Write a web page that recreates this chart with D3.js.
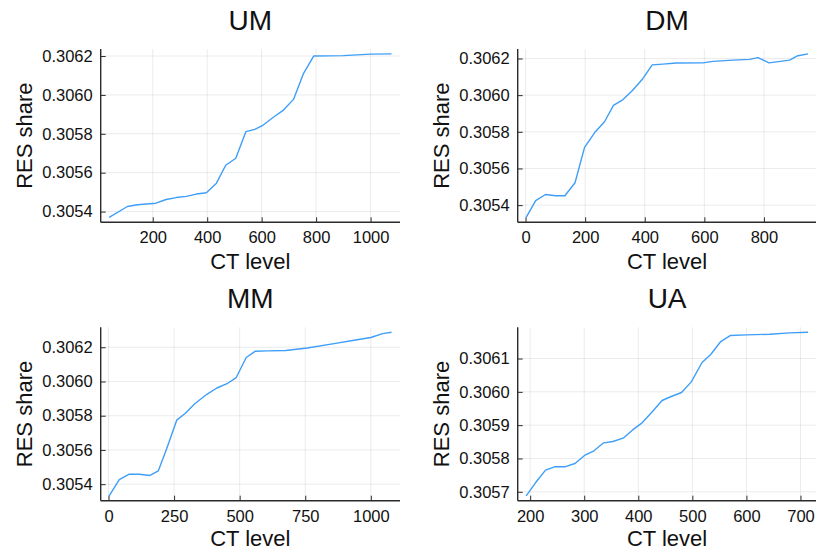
<!DOCTYPE html>
<html>
<head>
<meta charset="utf-8">
<script src="https://cdn.jsdelivr.net/npm/d3@7"></script>
<style>
  html, body { margin: 0; padding: 0; background: #fff; }
  svg { display: block; font-family: "Liberation Sans", Arial, sans-serif; }
</style>
</head>
<body>
<svg id="chart" width="816" height="551"></svg>
<script>
// CT level vs. RES share for the four regions
const umCT  = [40, 107, 144, 212, 249, 286, 323, 360, 397, 434, 468, 505, 542, 575, 606, 643, 680, 717, 754, 791, 900, 1000, 1077];
const umRES = [0.305370, 0.305426, 0.305435, 0.305443, 0.305462, 0.305472, 0.305478, 0.305490, 0.305497, 0.305546, 0.305638, 0.305674, 0.305811, 0.305823, 0.305845, 0.305885, 0.305922, 0.305977, 0.306111, 0.306200, 0.306202, 0.306210, 0.306211];

const dmCT  = [2, 34, 67, 101, 132, 166, 198, 232, 265, 295, 327, 358, 394, 425, 461, 506, 595, 629, 696, 752, 780, 817, 886, 914, 948];
const dmRES = [0.305333, 0.305425, 0.305458, 0.305451, 0.305451, 0.305522, 0.305715, 0.305796, 0.305855, 0.305944, 0.305976, 0.306024, 0.306091, 0.306165, 0.306169, 0.306175, 0.306176, 0.306184, 0.306191, 0.306195, 0.306205, 0.306176, 0.306191, 0.306215, 0.306225];

const mmCT  = [2.5, 41, 79, 117, 158, 190, 222, 260, 292, 330, 375, 413, 452, 487, 525, 560, 605, 675, 758, 860, 936, 1000, 1045, 1079];
const mmRES = [0.305332, 0.305427, 0.305458, 0.305458, 0.305451, 0.305478, 0.305608, 0.305774, 0.305813, 0.305871, 0.305925, 0.305962, 0.305987, 0.306023, 0.306140, 0.306177, 0.306179, 0.306181, 0.306196, 0.306221, 0.306241, 0.306257, 0.306280, 0.306288];

const uaCT  = [192.6, 209.9, 228.4, 245, 264, 283, 300.6, 318, 336, 353, 372, 389, 407, 425, 444, 461, 480, 498, 518, 534, 552.5, 570, 600, 643, 680, 714];
const uaRES = [0.305688, 0.305727, 0.305765, 0.305775, 0.305775, 0.305785, 0.305809, 0.305823, 0.305847, 0.305851, 0.305861, 0.305885, 0.305907, 0.305939, 0.305974, 0.305986, 0.305998, 0.306030, 0.306088, 0.306112, 0.306151, 0.306169, 0.306171, 0.306173, 0.306177, 0.306179];

// tick values per panel
const umXTicks = [200, 400, 600, 800, 1000];
const dmXTicks = [0, 200, 400, 600, 800];
const mmXTicks = [0, 250, 500, 750, 1000];
const uaXTicks = [200, 300, 400, 500, 600, 700];
const shareTicks = [0.3054, 0.3056, 0.3058, 0.3060, 0.3062];
const uaYTicks = [0.3057, 0.3058, 0.3059, 0.3060, 0.3061];

const titles = ["UM", "DM", "MM", "UA"];

const panels = [
  { title: titles[0], x: umCT, y: umRES, xt: umXTicks, yt: shareTicks, left: 100.7, right: 400,   top: 49,    bottom: 222.3, labelGap: 47 },
  { title: titles[1], x: dmCT, y: dmRES, xt: dmXTicks, yt: shareTicks, left: 517.7, right: 816.5, top: 49,    bottom: 222.3, labelGap: 47 },
  { title: titles[2], x: mmCT, y: mmRES, xt: mmXTicks, yt: shareTicks, left: 100.7, right: 400,   top: 327.3, bottom: 500.7, labelGap: 45.5 },
  { title: titles[3], x: uaCT, y: uaRES, xt: uaXTicks, yt: uaYTicks,  left: 517.7, right: 816.5, top: 327.3, bottom: 500.7, labelGap: 45.5 }
];

const svg = d3.select("#chart");
const lineColor = "#3f9ef7";

// widen an extent by 3% on each side
function padded(vals) {
  const [lo, hi] = d3.extent(vals);
  const pad = (hi - lo) * 0.03;
  return [lo - pad, hi + pad];
}

panels.forEach(p => {
  const x = d3.scaleLinear().domain(padded(p.x)).range([p.left, p.right]);
  const y = d3.scaleLinear().domain(padded(p.y)).range([p.bottom, p.top]);
  const g = svg.append("g");

  // grid
  g.append("g").selectAll("line").data(p.xt).join("line")
    .attr("x1", d => x(d)).attr("x2", d => x(d))
    .attr("y1", p.top).attr("y2", p.bottom)
    .attr("stroke", "#000").attr("stroke-opacity", 0.1).attr("stroke-width", 0.8);
  g.append("g").selectAll("line").data(p.yt).join("line")
    .attr("y1", d => y(d)).attr("y2", d => y(d))
    .attr("x1", p.left).attr("x2", p.right)
    .attr("stroke", "#000").attr("stroke-opacity", 0.1).attr("stroke-width", 0.8);

  // axes
  const xAxis = d3.axisBottom(x).tickValues(p.xt).tickSize(-5).tickPadding(8).tickFormat(d3.format("d"));
  const yAxis = d3.axisLeft(y).tickValues(p.yt).tickSize(-5).tickPadding(8).tickFormat(d3.format(".4f"));

  const gx = g.append("g").attr("transform", `translate(0,${p.bottom})`).call(xAxis);
  const gy = g.append("g").attr("transform", `translate(${p.left},0)`).call(yAxis);
  [gx, gy].forEach(a => {
    a.select(".domain").attr("stroke", "#2b2b2b").attr("stroke-width", 1.4);
    a.selectAll(".tick line").attr("stroke", "#2b2b2b").attr("stroke-width", 1);
    a.selectAll(".tick text").attr("fill", "#111").style("font-size", "16.5px")
      .style("font-family", "'Liberation Sans', Arial, sans-serif");
  });
  gx.select(".domain").attr("d", `M${p.left},0H${p.right}`);
  gy.select(".domain").attr("d", `M0,${p.bottom}V${p.top}`);
  gx.selectAll(".tick text").attr("dy", "0.78em");

  // series line
  const pts = p.x.map((v, i) => [v, p.y[i]]);
  g.append("path").datum(pts)
    .attr("fill", "none").attr("stroke", lineColor).attr("stroke-width", 1.4)
    .attr("stroke-linejoin", "round")
    .attr("d", d3.line().x(d => x(d[0])).y(d => y(d[1])));

  const cx = (p.left + p.right) / 2;
  const cy = (p.top + p.bottom) / 2;

  // title
  g.append("text").attr("x", cx).attr("y", p.top - 19)
    .attr("text-anchor", "middle").attr("fill", "#111")
    .style("font-size", "28px").text(p.title);

  // axis labels
  g.append("text").attr("x", cx).attr("y", p.bottom + p.labelGap)
    .attr("text-anchor", "middle").attr("fill", "#111")
    .style("font-size", "22px").text("CT level");
  g.append("text")
    .attr("transform", `translate(${p.left - 69},${cy}) rotate(-90)`)
    .attr("text-anchor", "middle").attr("fill", "#111")
    .style("font-size", "22px").text("RES share");
});
</script>
</body>
</html>
